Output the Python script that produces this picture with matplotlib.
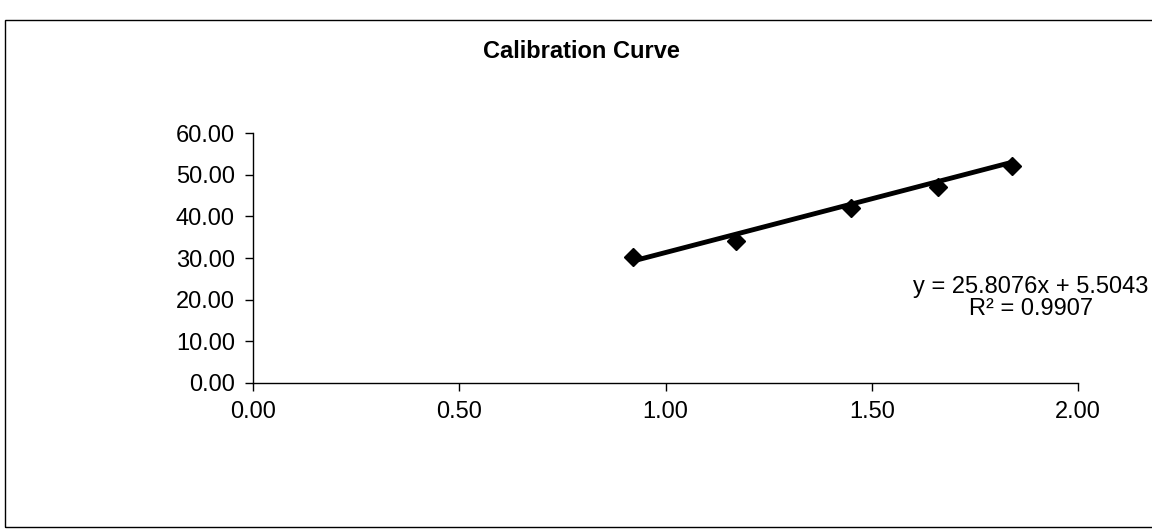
import numpy as np
import matplotlib
matplotlib.use("Agg")
import matplotlib.pyplot as plt
from matplotlib.patches import Rectangle

plt.rcParams['font.family'] = ['Liberation Sans', 'DejaVu Sans']

# calibration points
conc = [0.92, 1.17, 1.45, 1.66, 1.84]
signal = [30.3, 34.1, 42.1, 47.1, 52.2]

# linear trendline as printed on the chart
slope = 25.8076
intercept = 5.5043
r_squared = 0.9907

x_ticks = [0.0, 0.5, 1.0, 1.5, 2.0]
y_ticks = [0, 10, 20, 30, 40, 50, 60]

fig = plt.figure(figsize=(11.52, 5.30), dpi=100)
ax = fig.add_axes([0.2196, 0.2774, 0.7162, 0.4716])

# outer chart frame
fig.patches.append(Rectangle((0.004, 0.005), 1.2, 0.958, transform=fig.transFigure,
                             fill=False, edgecolor='black', linewidth=1.0))

xfit = np.array([min(conc), max(conc)])
ax.plot(xfit, slope * xfit + intercept, color='black', linewidth=3.5, zorder=2)
ax.plot(conc, signal, linestyle='none', marker='D', markersize=9,
        color='black', zorder=3)

ax.set_xlim(0, 2)
ax.set_ylim(0, 60)
ax.set_xticks(x_ticks)
ax.set_yticks(y_ticks)
ax.set_xticklabels([f"{v:.2f}" for v in x_ticks])
ax.set_yticklabels([f"{v:.2f}" for v in y_ticks])
ax.tick_params(labelsize=17, direction='out', length=6, width=1, pad=7)
for side in ('top', 'right'):
    ax.spines[side].set_visible(False)
ax.spines['left'].set_linewidth(1)
ax.spines['bottom'].set_linewidth(1)

fig.text(0.505, 0.925, "Calibration Curve", ha='center', va='top',
         fontsize=17, fontweight='bold')

fig.text(0.997, 0.48, f"y = {slope:.4f}x + {intercept:.4f}\nR\u00b2 = {r_squared:.4f}",
         ha='right', va='top', multialignment='center',
         fontsize=17, linespacing=1.0)

fig.savefig("out.png", dpi=100)
